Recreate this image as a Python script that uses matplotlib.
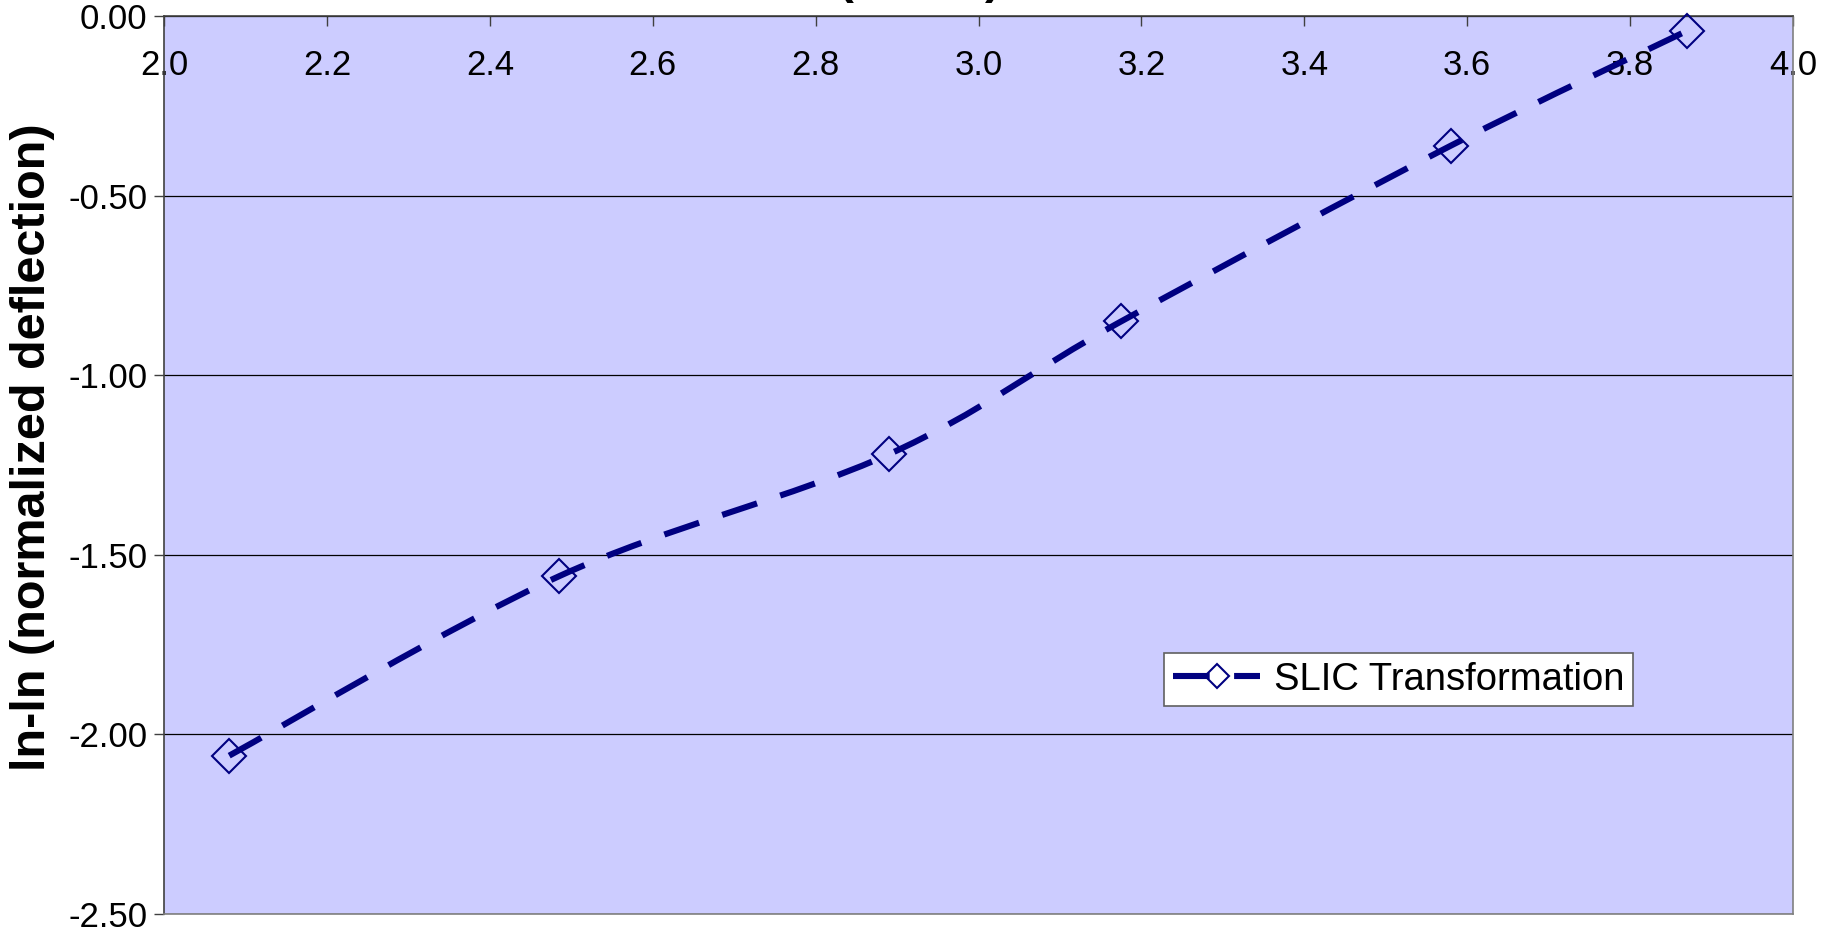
import numpy as np
import matplotlib.pyplot as plt
from matplotlib.path import Path
from matplotlib.patches import PathPatch
from matplotlib.lines import Line2D

plt.rcParams['font.family'] = ['Liberation Sans', 'DejaVu Sans']

# SLIC TRANSFORMATION DATA =====================================================
ln_x = [2.08, 2.485, 2.89, 3.175, 3.58, 3.87]
ln_ln_defl = [-2.06, -1.56, -1.22, -0.85, -0.36, -0.04]
series_name = 'SLIC Transformation'
x_ticks = [2.0, 2.2, 2.4, 2.6, 2.8, 3.0, 3.2, 3.4, 3.6, 3.8, 4.0]
y_ticks = [0.0, -0.5, -1.0, -1.5, -2.0, -2.5]
y_title = 'ln-ln (normalized deflection)'
x_title = 'ln (hours)'

NAVY = '#000080'
PLOT_BG = '#CCCCFF'


def smooth_path(xs, ys):
    # catmull-rom style bezier through the points (spreadsheet "smoothed line")
    pts = np.column_stack([xs, ys])
    padded = np.vstack([pts[0], pts, pts[-1]])
    verts = [pts[0]]
    codes = [Path.MOVETO]
    for i in range(len(pts) - 1):
        p0, p1, p2, p3 = padded[i], padded[i + 1], padded[i + 2], padded[i + 3]
        verts += [p1 + (p2 - p0) / 6.0, p2 - (p3 - p1) / 6.0, p2]
        codes += [Path.CURVE4] * 3
    return Path(verts, codes)


fig = plt.figure(figsize=(18.35, 9.34), dpi=100)
ax = fig.add_axes([0.0894, 0.0219, 0.8877, 0.9605])
ax.set_facecolor(PLOT_BG)

line = PathPatch(smooth_path(ln_x, ln_ln_defl), facecolor='none',
                 edgecolor=NAVY, linewidth=4.4, zorder=4)
line.set_linestyle((0, (6, 4)))
line.set_capstyle('butt')
ax.add_patch(line)
ax.plot(ln_x, ln_ln_defl, linestyle='none', marker='D', markersize=17,
        markerfacecolor='none', markeredgecolor=NAVY, markeredgewidth=1.5,
        zorder=3, clip_on=False)

ax.set_xlim(2.0, 4.0)
ax.set_ylim(-2.5, 0.0)
ax.set_xticks(x_ticks)
ax.set_xticklabels(['{:.1f}'.format(v) for v in x_ticks])
ax.set_yticks(y_ticks)
ax.set_yticklabels(['{:.2f}'.format(v) for v in y_ticks])

ax.yaxis.grid(True, color='black', linewidth=0.9)
ax.set_axisbelow(True)

# x axis crosses at y = 0, so it sits on top with labels hanging inside
ax.tick_params(axis='x', top=True, bottom=False, labeltop=True,
               labelbottom=False, direction='in', length=7, width=1,
               color='#404040', pad=-47, labelsize=25)
ax.tick_params(axis='y', direction='out', length=7, width=1,
               color='#404040', pad=5, labelsize=25)

ax.spines['top'].set_color('#404040')
ax.spines['left'].set_color('#404040')
ax.spines['right'].set_color('#808080')
ax.spines['bottom'].set_color('#808080')
for s in ax.spines.values():
    s.set_linewidth(1.2)

fig.text(0.0175, 1 - 447 / 934, y_title, rotation=90, ha='center',
         va='center', fontsize=35, fontweight='bold')
fig.text(0.5455, 1.0075, x_title, ha='right', va='baseline',
         fontsize=34, fontweight='bold')

handle = Line2D([], [], color=NAVY, linewidth=4.4, dashes=(6, 4),
                marker='D', markersize=12, markerfacecolor='none',
                markeredgecolor=NAVY, markeredgewidth=1.5)
leg = ax.legend([handle], [series_name], loc='upper left',
                bbox_to_anchor=(0.614, 0.29), borderaxespad=0,
                fontsize=27.5, frameon=True, fancybox=False,
                handlelength=2.3, handletextpad=0.35, borderpad=0.22)
leg.get_frame().set_edgecolor('#606060')
leg.get_frame().set_linewidth(1.2)
leg.get_frame().set_alpha(1)

fig.savefig('out.png', dpi=100)
